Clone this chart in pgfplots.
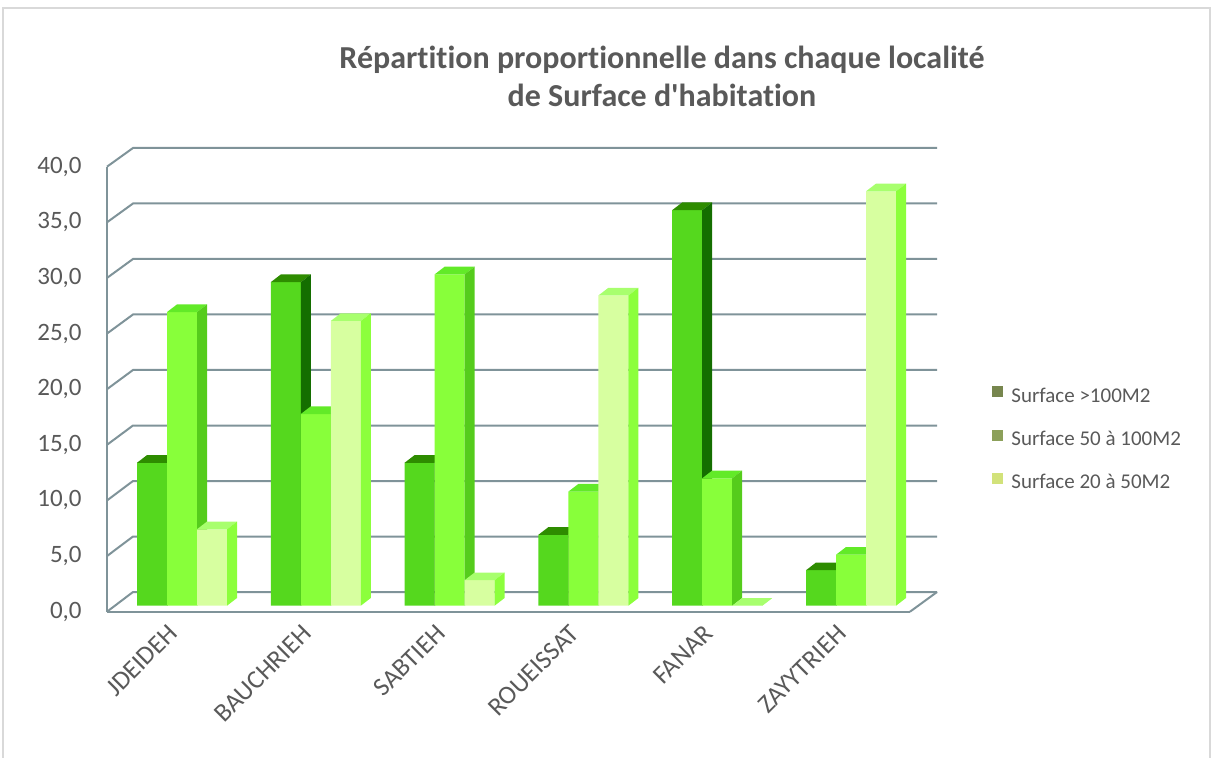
\documentclass[border=0pt]{standalone}
\usepackage{pgfplots}
\pgfplotsset{compat=1.18}
\usepackage{pgfplotstable}
\usepackage{fontspec}
\setmainfont{Carlito}[Ligatures={NoCommon}]
\definecolor{txt}{HTML}{595959}
\definecolor{gridc}{HTML}{7F9399}
\definecolor{frame}{HTML}{D9D9D9}
\definecolor{aF}{HTML}{55D81E}
\definecolor{aT}{HTML}{2E8C00}
\definecolor{aS}{HTML}{146E00}
\definecolor{bF}{HTML}{88FF3A}
\definecolor{bT}{HTML}{62EA28}
\definecolor{bS}{HTML}{55CC1C}
\definecolor{cF}{HTML}{D7FFA0}
\definecolor{cT}{HTML}{A8FF6E}
\definecolor{cS}{HTML}{8CFF3C}
\definecolor{lA}{HTML}{77864E}
\definecolor{lB}{HTML}{8CA05A}
\definecolor{lC}{HTML}{D2E27A}
\pgfdeclareplotmark{emptymark}{}
\def\PXU{0.5pt}
\pgfplotstableread{
x a b c
0 12.9 26.5 6.9
1 29.2 17.3 25.7
2 12.9 29.9 2.3
3 6.4 10.3 28.0
4 35.7 11.5 0.0
5 3.2 4.6 37.4
}\datatable
\pgfplotsset{
 faces/.style n args={4}{
   only marks, mark=emptymark, scatter, forget plot,
   visualization depends on={\thisrow{#4} \as \hval},
   scatter/@pre marker code/.code={%
     \pgfmathsetmacro\hpx{\hval*11.08}%
     \begin{pgfscope}%
     \pgfsetfillcolor{#2}%
     \pgfpathmoveto{\pgfpoint{(#1)*0.5pt}{0pt}}%
     \pgfpathlineto{\pgfpoint{(#1+30)*0.5pt}{0pt}}%
     \pgfpathlineto{\pgfpoint{(#1+40)*0.5pt}{3.85pt}}%
     \pgfpathlineto{\pgfpoint{(#1+10)*0.5pt}{3.85pt}}%
     \pgfpathclose\pgfusepath{fill}%
     \pgfsetfillcolor{#3}%
     \pgfpathmoveto{\pgfpoint{(#1+30)*0.5pt}{0pt}}%
     \pgfpathlineto{\pgfpoint{(#1+40)*0.5pt}{3.85pt}}%
     \pgfpathlineto{\pgfpoint{(#1+40)*0.5pt}{(7.7-\hpx)*0.5pt}}%
     \pgfpathlineto{\pgfpoint{(#1+30)*0.5pt}{(0-\hpx)*0.5pt}}%
     \pgfpathclose\pgfusepath{fill}%
     \end{pgfscope}%
   },
   scatter/@post marker code/.code={},
 },
}
\begin{document}
\begin{tikzpicture}
\begin{scope}[x=0.5pt,y=-0.5pt]
\useasboundingbox (0,0) rectangle (1213,758);
\begin{scope}
\clip (0,0) rectangle (1213,758);
\draw[frame, line width=1pt] (3,8) rectangle (1210,775);
\end{scope}
\foreach \v in {0,5,...,40} {
  \draw[gridc, line width=1pt] (107,{611.7-\v*11.125}) -- (133,{592-\v*11.1}) -- (937,{592-\v*11.1});
}
\draw[gridc, line width=1pt] (910,611.7) -- (937,592);
\node[font=\fontsize{16}{19}\selectfont\bfseries, text=txt, align=center] at (662,76) {Répartition proportionnelle dans chaque localité\\de Surface d\textquotesingle habitation};
\end{scope}

\begin{axis}[
  at={({107*\PXU},{-611.7*\PXU})}, anchor=south west,
  scale only axis, width={803*\PXU}, height={445*\PXU},
  xmin=-0.5, xmax=5.5, ymin=0, ymax=40,
  axis x line*=bottom, axis y line*=left,
  axis line style={draw=gridc, line width=1pt, -},
  ytick={0,5,...,40}, xtick={0,...,5},
  xticklabels={JDEIDEH,BAUCHRIEH,SABTIEH,ROUEISSAT,FANAR,ZAYYTRIEH},
  major tick length=0pt, tick style={draw=none},
  tick label style={font=\fontsize{12.5}{15}\selectfont, text=txt},
  yticklabel style={/pgf/number format/.cd, fixed, fixed zerofill, precision=1, use comma, assume math mode=true, /tikz/.cd, anchor=east, inner sep=0pt, xshift=-12.5pt},
  xticklabel style={font=\fontsize{13}{15}\selectfont, inner sep=0pt, xshift=-3.5pt, yshift=-5.5pt, rotate=45, anchor=north east},
]
\end{axis}

\begin{axis}[
  at={({115.1*\PXU},{-605.7*\PXU})}, anchor=south west,
  scale only axis, width={802.8*\PXU}, height={443.2*\PXU},
  xmin=-0.5, xmax=5.5, ymin=0, ymax=40,
  hide axis, clip=false, clip marker paths=true,
  legend cell align=left,
  legend style={at={(1.0923,0.4957)}, anchor=north west, draw=none, fill=none,
    inner sep=0pt, font=\fontsize{10.5}{12}\selectfont, text=txt, row sep=11.5pt,
    nodes={inner sep=0pt, text height=7.5pt, text depth=2pt},
    /tikz/every odd column/.append style={column sep=4pt}},
]
\addplot[ybar, bar width=15pt, bar shift=-15pt, fill=aF, draw=none,
  legend image code/.code={\fill[lA] (0pt,-0.2pt) rectangle (5.5pt,5.3pt);}] table[x=x,y=a]{\datatable};
\addlegendentry{Surface >100M2}
\addplot[faces={-45}{aT}{aS}{a}] table[x=x,y=a]{\datatable};
\addplot[ybar, bar width=15pt, bar shift=0pt, fill=bF, draw=none,
  legend image code/.code={\fill[lB] (0pt,-0.2pt) rectangle (5.5pt,5.3pt);}] table[x=x,y=b]{\datatable};
\addlegendentry{Surface 50 à 100M2}
\addplot[faces={-15}{bT}{bS}{b}] table[x=x,y=b]{\datatable};
\addplot[ybar, bar width=15pt, bar shift=15pt, fill=cF, draw=none,
  legend image code/.code={\fill[lC] (0pt,-0.2pt) rectangle (5.5pt,5.3pt);}] table[x=x,y=c]{\datatable};
\addlegendentry{Surface 20 à 50M2}
\addplot[faces={15}{cT}{cS}{c}] table[x=x,y=c]{\datatable};
\end{axis}
\end{tikzpicture}
\end{document}
